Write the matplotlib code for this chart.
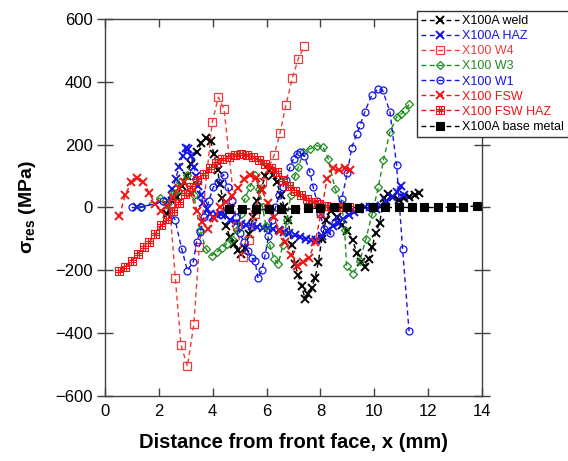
import matplotlib
matplotlib.use("Agg")
import matplotlib.pyplot as plt
from matplotlib.path import Path

plt.rcParams['font.family'] = ['Liberation Sans', 'DejaVu Sans']
plt.rcParams['mathtext.fontset'] = 'custom'
plt.rcParams['mathtext.rm'] = 'Liberation Sans:bold'
plt.rcParams['mathtext.it'] = 'Liberation Sans:bold'
plt.rcParams['mathtext.bf'] = 'Liberation Sans:bold'
plt.rcParams['mathtext.sf'] = 'Liberation Sans:bold'

# ---- residual stress profiles: distance (mm) and stress (MPa) ----
weld_x = [2.3, 2.47, 2.66, 2.85, 3.03, 3.2, 3.4, 3.58, 3.75, 3.92, 4.05, 4.18, 4.27, 4.36,
          4.5, 4.64, 4.78, 4.92, 5.05, 5.2, 5.35, 5.5, 5.65, 5.8, 5.95, 6.1, 6.22, 6.38,
          6.52, 6.66, 6.8, 6.93, 7.05, 7.17, 7.3, 7.43, 7.55, 7.67, 7.8, 7.92, 8.05, 8.2,
          8.4, 8.6, 8.8, 9.0, 9.2, 9.35, 9.5, 9.65, 9.8, 9.93, 10.05, 10.2, 10.35, 10.5,
          10.7, 10.9, 11.1, 11.3, 11.5, 11.65]
weld_y = [-20, 22, 33, 70, 100, 140, 178, 205, 220, 212, 170, 118, 75, 30,
          -60, -95, -115, -135, -148, -130, -85, -30, 20, 60, 100, 118, 105, 80,
          40, 0, -40, -120, -180, -215, -250, -290, -275, -255, -225, -175, -100, -40,
          -10, -30, -55, -75, -105, -145, -172, -190, -165, -125, -80, -50, 30, 42,
          35, 25, 30, 35, 40, 45]

haz_x = [1.2, 2.35, 2.5, 2.62, 2.75, 2.88, 3.0, 3.1, 3.2, 3.3, 3.38, 3.46, 3.55, 3.65,
         3.78, 3.9, 4.02, 4.15, 4.3, 4.46, 4.65, 4.85, 5.05, 5.25, 5.45, 5.65, 5.85, 6.05,
         6.25, 6.45, 6.65, 6.85, 7.05, 7.25, 7.45, 7.65, 7.85, 8.05, 8.25, 8.45, 8.65, 8.85,
         9.05, 9.25, 9.45, 9.65, 9.85, 10.05, 10.25, 10.45, 10.65, 10.85, 11.0, 11.1]
haz_y = [0, 20, 60, 90, 130, 165, 190, 185, 165, 130, 100, 70, 40, 15,
         -5, -20, -30, -25, -20, -25, -40, -48, -52, -56, -58, -62, -64, -66,
         -68, -72, -77, -82, -88, -95, -100, -104, -102, -90, -75, -60, -48, -36,
         -25, -15, -5, 0, 0, -5, 5, 20, 35, 50, 68, 40]

w4_x = [2.4, 2.61, 2.82, 3.06, 3.3, 3.5, 3.98, 4.21, 4.42, 4.89, 5.11, 5.36, 5.58, 5.82,
        6.28, 6.5, 6.72, 6.96, 7.18, 7.4]
w4_y = [10, -225, -437, -506, -370, -126, 271, 351, 314, -60, -156, -103, -20, 81,
        166, 237, 327, 413, 474, 513]

w3_x = [1.35, 2.04, 2.3, 2.55, 2.8, 3.05, 3.3, 3.53, 3.75, 3.96, 4.15, 4.33, 4.52, 4.7,
        4.89, 5.05, 5.2, 5.38, 5.57, 5.72, 5.85, 5.98, 6.12, 6.28, 6.44, 6.6, 6.75, 6.9,
        7.05, 7.18, 7.36, 7.61, 7.86, 8.1, 8.29, 8.54, 8.79, 8.9, 8.97, 9.22, 9.47, 9.69,
        9.92, 10.15, 10.34, 10.58, 10.83, 11.0, 11.14, 11.29]
w3_y = [0, 30, 10, 45, 80, 105, 40, -73, -132, -153, -142, -128, -116, -100,
        -73, -20, 30, 65, 102, 60, 0, -60, -120, -165, -179, -120, -40, 40,
        100, 128, 176, 187, 197, 192, 155, 60, 12, -73, -185, -211, -169, -100,
        -20, 65, 150, 240, 288, 298, 309, 328]

w1_x = [0.99, 1.35, 2.17, 2.6, 2.85, 3.06, 3.28, 3.4, 3.53, 3.68, 3.85, 4.02, 4.21, 4.4,
        4.55, 4.7, 4.85, 5.0, 5.15, 5.3, 5.45, 5.57, 5.68, 5.82, 5.95, 6.07, 6.2, 6.33,
        6.47, 6.6, 6.72, 6.87, 7.0, 7.12, 7.24, 7.4, 7.61, 7.73, 7.86, 7.98, 8.15, 8.35,
        8.54, 8.79, 9.0, 9.16, 9.35, 9.47, 9.65, 9.9, 10.15, 10.31, 10.58, 10.83, 11.05,
        11.29]
w1_y = [0, 0, 20, -39, -132, -201, -172, -110, -79, -30, 20, 65, 81, 105,
        65, 20, -30, -80, -110, -140, -160, -170, -225, -200, -150, -90, -40, 0,
        40, 65, 86, 128, 155, 171, 176, 165, 112, 65, 22, -20, -70, -80,
        -47, 28, 110, 190, 235, 261, 305, 357, 378, 373, 305, 134, -132,
        -394]

fsw_x = [0.53, 0.75, 0.98, 1.2, 1.42, 1.64, 1.86, 2.08, 2.3, 2.52, 2.74, 2.95, 3.18, 3.4,
         3.62, 3.84, 4.06, 4.28, 4.5, 4.72, 4.95, 5.17, 5.39, 5.6, 5.82, 6.04, 6.26, 6.48,
         6.7, 6.92, 7.14, 7.36, 7.58, 7.8, 8.02, 8.24, 8.46, 8.68, 8.9, 9.1]
fsw_y = [-28, 40, 81, 95, 82, 46, 12, -12, 5, 33, 62, 80, 45, -10,
         -45, -68, -35, 0, 17, 38, 62, 90, 102, 95, 55, 15, -30, -75,
         -110, -150, -185, -175, -160, -110, -20, 90, 125, 118, 125, 118]

fswhaz_x = [0.53, 0.76, 0.99, 1.21, 1.43, 1.65, 1.87, 2.08, 2.3, 2.52, 2.74, 2.96, 3.2,
            3.43, 3.67, 3.9, 4.13, 4.36, 4.6, 4.83, 5.06, 5.28, 5.5, 5.72, 5.95, 6.17,
            6.39, 6.61, 6.83, 7.05, 7.27, 7.5, 7.73, 7.96, 8.19, 8.42, 8.64, 8.86, 9.07]
fswhaz_y = [-203, -188, -169, -147, -126, -110, -84, -57, -36, -12, 15, 42, 65,
            86, 108, 127, 143, 154, 162, 167, 170, 167, 162, 152, 139, 126,
            112, 88, 70, 54, 41, 28, 17, 10, 5, 3, 1, 0, 2]

base_x = [4.6, 5.1, 5.6, 6.1, 6.55, 7.05, 7.55, 8.0, 8.5, 9.0, 9.45, 9.95, 10.4, 10.9,
          11.4, 11.85, 12.35, 12.85, 13.3, 13.8]
base_y = [-5, -4, -5, -6, -5, -5, -2, -3, 0, 0, -1, 0, 0, 0,
          0, 0, 0, 1, 2, 5]

labels = ['X100A weld', 'X100A HAZ', 'X100 W4', 'X100 W3', 'X100 W1',
          'X100 FSW', 'X100 FSW HAZ', 'X100A base metal']
x_ticks = [0, 2, 4, 6, 8, 10, 12, 14]
y_ticks = [-600, -400, -200, 0, 200, 400, 600]

# square marker with an internal grid for the FSW HAZ series
a = 1.0 / 3.0
grid_sq = Path(
    [(-1, -1), (1, -1), (1, 1), (-1, 1), (-1, -1),
     (-1, -a), (1, -a), (-1, a), (1, a),
     (-a, -1), (-a, 1), (a, -1), (a, 1)],
    [Path.MOVETO, Path.LINETO, Path.LINETO, Path.LINETO, Path.LINETO,
     Path.MOVETO, Path.LINETO, Path.MOVETO, Path.LINETO,
     Path.MOVETO, Path.LINETO, Path.MOVETO, Path.LINETO])

BLACK = '#000000'
BLUE = '#1414e6'
RED = '#f01414'
RED_LIGHT = '#f03c3c'
GREEN = '#1e8c1e'
dash = (0, (3.5, 2.5))

fig = plt.figure(figsize=(5.68, 4.61), dpi=100)
ax = fig.add_axes([0.1849, 0.141, 0.6637, 0.8178])

series = [
    (weld_x, weld_y, dict(color=BLACK, marker='x', ms=5.8, mew=1.4)),
    (haz_x, haz_y, dict(color=BLUE, marker='x', ms=5.8, mew=1.4)),
    (w4_x, w4_y, dict(color=RED_LIGHT, marker='s', ms=5.8, mew=0.9, mfc='none')),
    (w3_x, w3_y, dict(color=GREEN, marker='D', ms=4.2, mew=0.9, mfc='none')),
    (w1_x, w1_y, dict(color=BLUE, marker='o', ms=5.0, mew=0.9, mfc='none')),
    (fsw_x, fsw_y, dict(color=RED, marker='x', ms=5.8, mew=1.4)),
    (fswhaz_x, fswhaz_y, dict(color=RED, marker=grid_sq, ms=6.0, mew=0.8, mfc='none')),
    (base_x, base_y, dict(color=BLACK, marker='s', ms=6.0, mew=0.8)),
]
for (xs, ys, style), lab in zip(series, labels):
    ax.plot(xs, ys, linestyle=dash, lw=1.0, label=lab, **style)

ax.set_xlim(0, 14)
ax.set_ylim(-600, 600)
ax.set_xticks(x_ticks)
ax.set_yticks(y_ticks)
ax.tick_params(axis='both', which='major', labelsize=12, direction='in', length=6,
               width=1.0, top=True, right=True, color='#404040')
ax.tick_params(axis='y', which='major', left=True, direction='inout', length=12, pad=3)
ax.tick_params(axis='x', pad=6)
for sp in ax.spines.values():
    sp.set_linewidth(1.0)
    sp.set_color('#404040')

ax.set_xlabel('Distance from front face, x (mm)', fontsize=14.5, fontweight='bold', labelpad=10)
ax.set_ylabel(r'$\sigma_{res}$ (MPa)', fontsize=14, fontweight='bold', labelpad=12)

leg = ax.legend(loc='upper left', bbox_to_anchor=(0.7336, 0.9768),
                bbox_transform=fig.transFigure, fontsize=9, frameon=True,
                fancybox=False, edgecolor='#333333', framealpha=1.0,
                handlelength=3.0, handletextpad=0.3, labelspacing=0.25,
                borderpad=0.35, borderaxespad=0.0, numpoints=1)
leg.get_frame().set_linewidth(1.0)
for txt, (_, _, style) in zip(leg.get_texts(), series):
    txt.set_color(style['color'])

fig.savefig('out.png', dpi=100)
